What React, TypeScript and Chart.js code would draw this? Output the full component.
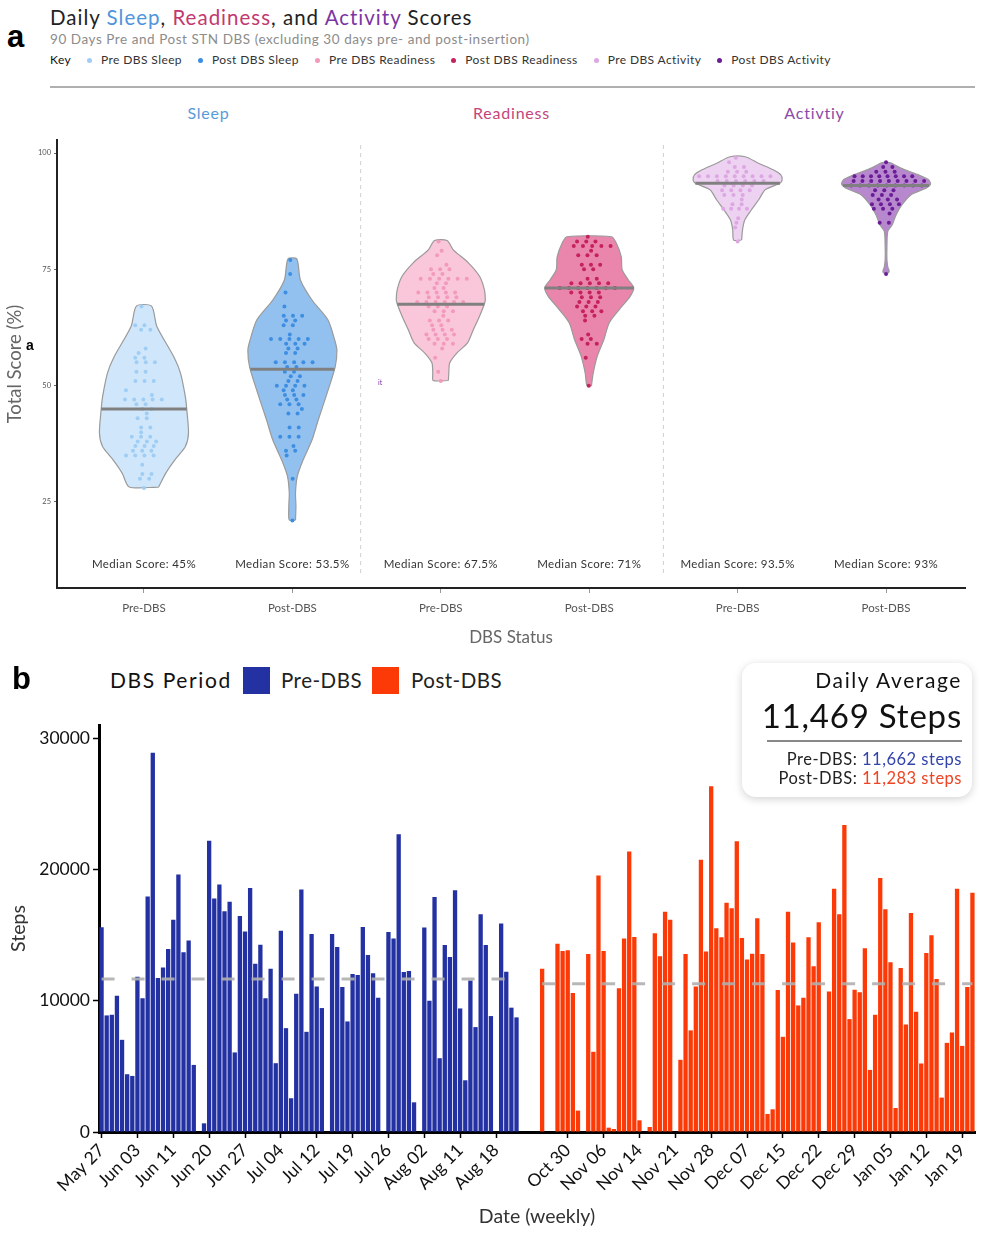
import React, { useEffect, useRef } from 'react';
import { Chart, registerables } from 'chart.js';

Chart.register(...registerables);

const FONT = "Lato, 'Noto Sans', sans-serif";

// ---------------- Panel a data ----------------
const groupLabels = ['Pre-DBS', 'Post-DBS', 'Pre-DBS', 'Post-DBS', 'Pre-DBS', 'Post-DBS'];
const facetTitles = ['Sleep', 'Readiness', 'Activtiy'];
const keyLabels = ['Pre DBS Sleep', 'Post DBS Sleep', 'Pre DBS Readiness', 'Post DBS Readiness', 'Pre DBS Activity', 'Post DBS Activity'];
const medians = [45, 53.5, 67.5, 71, 93.5, 93];
const medianTexts = ['Median Score: 45%', 'Median Score: 53.5%', 'Median Score: 67.5%', 'Median Score: 71%', 'Median Score: 93.5%', 'Median Score: 93%'];
const scoreTicks = [25, 50, 75, 100];

const sleepPre = [67, 63, 63, 62, 62, 58, 57, 56, 56, 55, 55, 55, 53, 53, 51, 51, 51, 49, 48, 47, 47, 47, 47, 47, 46, 46, 45, 45, 44, 43, 43, 41, 41, 40, 39, 39, 39, 38, 38, 38, 37, 37, 37, 36, 36, 36, 35, 35, 35, 35, 33, 31, 31, 30, 30, 28];
const sleepPost = [77, 74, 70, 67, 65, 65, 65, 64, 64, 63, 63, 61, 60, 60, 60, 60, 60, 59, 59, 59, 58, 58, 57, 57, 55, 55, 55, 55, 55, 54, 54, 53, 53, 52, 52, 51, 51, 50, 50, 50, 50, 49, 49, 48, 48, 48, 47, 47, 46, 46, 46, 45, 44, 44, 41, 41, 39, 39, 39, 37, 36, 36, 35, 30, 21];
const readinessPre = [81, 79, 78, 76, 75, 75, 75, 74, 74, 73, 73, 73, 73, 73, 73, 72, 72, 71, 71, 70, 70, 70, 70, 70, 69, 69, 69, 69, 68, 68, 68, 68, 68, 68, 67, 67, 67, 66, 66, 66, 65, 64, 64, 64, 63, 63, 62, 62, 62, 61, 61, 61, 61, 60, 60, 60, 59, 59, 59, 58, 56, 53, 51];
const readinessPost = [82, 81, 81, 81, 80, 80, 80, 80, 80, 79, 78, 78, 78, 76, 76, 76, 75, 75, 73, 73, 72, 72, 72, 72, 72, 71, 71, 71, 71, 71, 71, 71, 70, 70, 70, 70, 69, 69, 69, 68, 68, 68, 67, 67, 67, 66, 66, 66, 65, 65, 64, 61, 60, 60, 59, 59, 56, 50];
const activityPre = [99, 98, 97, 97, 96, 96, 96, 95, 95, 95, 95, 95, 95, 95, 95, 95, 94, 94, 94, 94, 94, 94, 93, 93, 93, 93, 92, 92, 92, 92, 91, 91, 91, 90, 89, 89, 88, 88, 88, 88, 86, 85, 84, 81];
const activityPost = [98, 97, 97, 96, 96, 96, 95, 95, 95, 95, 95, 95, 95, 95, 94, 94, 94, 94, 94, 94, 94, 94, 94, 93, 93, 93, 93, 93, 93, 93, 93, 93, 92, 92, 92, 91, 91, 91, 90, 90, 90, 89, 89, 89, 89, 88, 88, 88, 87, 85, 85, 74];

// violin density profiles: [score, relative width]
const sleepPreDensity = [[28.2, 0.33], [31.2, 0.49], [34.0, 0.69], [36.9, 0.93], [39.8, 1.0], [45.0, 0.96], [47.6, 0.93], [52.7, 0.82], [56.2, 0.67], [62.7, 0.29], [67.1, 0.17]];
const sleepPostDensity = [[21.1, 0.07], [24.1, 0.08], [26.9, 0.07], [30.5, 0.11], [34.0, 0.24], [38.3, 0.44], [42.6, 0.58], [48.4, 0.78], [54.0, 0.96], [57.6, 1.0], [59.8, 0.95], [64.1, 0.8], [68.4, 0.44], [72.7, 0.18], [77.2, 0.1]];
const readinessPreDensity = [[51.1, 0.17], [52.7, 0.18], [54.9, 0.2], [57.0, 0.36], [59.2, 0.6], [62.0, 0.73], [64.9, 0.87], [67.6, 0.98], [68.5, 1.0], [70.6, 0.98], [73.5, 0.87], [76.4, 0.62], [79.2, 0.28], [81.2, 0.14]];
const readinessPostDensity = [[50.0, 0.05], [52.7, 0.09], [56.3, 0.18], [59.9, 0.33], [63.5, 0.45], [66.3, 0.67], [69.2, 0.92], [71.0, 1.0], [72.7, 0.88], [74.9, 0.74], [77.7, 0.72], [80.6, 0.61], [82.0, 0.5]];
const activityPreDensity = [[81.3, 0.09], [83.5, 0.11], [85.6, 0.16], [87.8, 0.31], [89.9, 0.47], [92.1, 0.62], [93.5, 0.95], [94.2, 1.0], [95.3, 0.97], [96.4, 0.8], [97.8, 0.47], [99.2, 0.17]];
const activityPostDensity = [[74.2, 0.05], [74.6, 0.07], [75.5, 0.04], [77, 0.02], [80, 0.02], [83.2, 0.04], [84.6, 0.14], [86.8, 0.23], [88.9, 0.36], [91.1, 0.57], [92.5, 0.91], [93.3, 1.0], [94.3, 0.95], [95.4, 0.7], [96.8, 0.32], [97.9, 0.1]];

const groupScores = [sleepPre, sleepPost, readinessPre, readinessPost, activityPre, activityPost];
const groupDensity = [sleepPreDensity, sleepPostDensity, readinessPreDensity, readinessPostDensity, activityPreDensity, activityPostDensity];

const groupFill = ['#d0e7fb', '#93c1ef', '#f9c7d9', '#ea86ab', '#eed2f1', '#b888ce'];
const groupDot = ['#9fcdf4', '#3d8ee2', '#f39abc', '#c5215c', '#dca7e2', '#6b1d98'];
const facetColors = ['#5a9ad8', '#c4457a', '#8a4aa8'];

// ---------------- Panel b data ----------------
const preTickLabels = ['May 27', 'Jun 03', 'Jun 11', 'Jun 20', 'Jun 27', 'Jul 04', 'Jul 12', 'Jul 19', 'Jul 26', 'Aug 02', 'Aug 11', 'Aug 18'];
const postTickLabels = ['Oct 30', 'Nov 06', 'Nov 14', 'Nov 21', 'Nov 28', 'Dec 07', 'Dec 15', 'Dec 22', 'Dec 29', 'Jan 05', 'Jan 12', 'Jan 19'];
const preSteps = [15600, 8880, 8930, 10380, 7020, 4400, 4270, 11830, 10180, 17940, 28880, 11730, 12520, 13940, 16160, 19620, 13690, 14580, 5110, null, 660, 22190, 17790, 18850, 16820, 17530, 6060, 16460, 15270, 18580, 12820, 14270, 10180, 12440, 5240, 15320, 7910, 2570, 10530, 18470, 7630, 15090, 11090, 9440, null, 15090, 14100, 11040, 8420, 12040, 11960, 15620, 13490, 12090, 10230, null, 15240, 14730, 22670, 12190, 12260, 2260, null, 15570, 10000, 17890, 5620, 14250, 13330, 18420, 9410, 3940, 11530, 7990, 16590, 14250, 8830, null, 15880, 12210, 9470, 8730];
const postSteps = [12440, null, null, 14330, 13790, 13840, 10590, 1630, null, 13560, 6110, 19540, 13790, 330, 230, 10940, 14730, 21370, 14860, 890, null, 380, 15140, 13380, 16770, 16160, null, 5500, 13560, 7740, 11090, 20740, 13740, 26340, 15520, 14830, 17460, 17050, 22140, 14780, 13130, 13570, 16280, 13560, 1370, 1730, 10810, 7250, 16770, 14430, 9640, 10230, 14830, 12620, 15980, null, 10710, 18520, 16590, 23380, 8600, 10840, 10640, 13990, 4730, 8930, 19340, 16970, 12930, 1830, 12490, 8190, 16690, 9160, 5220, 13640, 14990, 11650, 2620, 6790, 7580, 18520, 6560, 11040, 18220];
const gapDays = 4;
const postFirstTick = 5;
const tickEvery = 7;
const stepTicks = [0, 10000, 20000, 30000];
const preMean = 11662;
const postMean = 11283;
const overallMean = 11469;

const PRE_COLOR = '#2331a3';
const POST_COLOR = '#fc3a08';

// ---------------- helpers ----------------
const VH = 0.3; // max violin half width (x units)
const DOT_SP = 0.062;

function widthAt(prof: number[][], v: number) {
  if (v < prof[0][0] || v > prof[prof.length - 1][0]) return 0;
  for (let i = 0; i < prof.length - 1; i++) {
    const [a, wa] = prof[i];
    const [b, wb] = prof[i + 1];
    if (v >= a && v <= b) return wa + ((v - a) / (b - a || 1)) * (wb - wa);
  }
  return prof[prof.length - 1][1];
}

function violinPolygon(center: number, prof: number[][]) {
  const right = prof.map(([v, w]) => ({ x: center + w * VH, y: v }));
  const left = prof.slice().reverse().map(([v, w]) => ({ x: center - w * VH, y: v }));
  return [...right, ...left, right[0]];
}

function swarm(center: number, values: number[], prof: number[][]) {
  const counts = new Map<number, number>();
  values.forEach((v) => counts.set(v, (counts.get(v) || 0) + 1));
  const seen = new Map<number, number>();
  return values.map((v) => {
    const n = counts.get(v) || 1;
    const j = seen.get(v) || 0;
    seen.set(v, j + 1);
    const half = widthAt(prof, v) * VH;
    const avail = 2 * half * 0.82;
    const sp = n > 1 ? Math.min(DOT_SP, avail / (n - 1)) : DOT_SP;
    const r = (((v * 37) % 7) / 7) - 0.5;
    const shift = n > 1 ? r * sp * 0.9 : r * half * 0.9;
    return { x: center + (j - (n - 1) / 2) * sp + shift, y: v };
  });
}

const separatorPlugin = {
  id: 'facetDecor',
  beforeDatasetsDraw(chart: any) {
    const { ctx, chartArea, scales } = chart;
    ctx.save();
    ctx.strokeStyle = '#cfcfcf';
    ctx.lineWidth = 1;
    ctx.setLineDash([4, 4]);
    [2.46, 4.5].forEach((v) => {
      const px = scales.x.getPixelForValue(v);
      ctx.beginPath();
      ctx.moveTo(px, chartArea.top + 5);
      ctx.lineTo(px, chartArea.bottom - 12);
      ctx.stroke();
    });
    ctx.restore();
  },
  afterDatasetsDraw(chart: any) {
    const { ctx, chartArea, scales } = chart;
    ctx.save();
    ctx.fillStyle = '#333';
    ctx.font = `11.5px ${FONT}`;
    try {
      (ctx as any).letterSpacing = '0.4px';
    } catch (e) {}
    ctx.textAlign = 'center';
    ctx.textBaseline = 'middle';
    medianTexts.forEach((t, i) => {
      ctx.fillText(t, scales.x.getPixelForValue(i + 1), chartArea.bottom - 24);
    });
    ctx.restore();
  },
};

export default function App() {
  const refA = useRef<HTMLCanvasElement>(null);
  const refB = useRef<HTMLCanvasElement>(null);

  useEffect(() => {
    // ---------- Panel a ----------
    const datasets: any[] = [];
    groupScores.forEach((scores, i) => {
      const c = i + 1;
      const prof = groupDensity[i];
      datasets.push({
        type: 'line',
        data: violinPolygon(c, prof),
        borderColor: '#9a9a9a',
        borderWidth: 1.2,
        backgroundColor: groupFill[i],
        fill: 'shape',
        tension: 0.25,
        pointRadius: 0,
        order: 3,
      });
      datasets.push({
        type: 'scatter',
        data: swarm(c, scores, prof),
        backgroundColor: groupDot[i],
        borderWidth: 0,
        pointRadius: 2,
        order: 2,
      });
      const mw = widthAt(prof, medians[i]) * VH;
      datasets.push({
        type: 'line',
        data: [{ x: c - mw, y: medians[i] }, { x: c + mw, y: medians[i] }],
        borderColor: '#808080',
        borderWidth: 3,
        pointRadius: 0,
        fill: false,
        order: 1,
      });
    });

    const chartA = new Chart(refA.current as HTMLCanvasElement, {
      type: 'scatter',
      data: { datasets },
      options: {
        animation: false,
        responsive: false,
        maintainAspectRatio: false,
        layout: { padding: { left: 0, right: 21, top: 10, bottom: 8 } },
        plugins: { legend: { display: false }, tooltip: { enabled: false } },
        scales: {
          x: {
            type: 'linear',
            min: 0.414,
            max: 6.532,
            afterBuildTicks: (s: any) => {
              s.ticks = groupLabels.map((_, i) => ({ value: i + 1 }));
            },
            afterFit: (s: any) => {
              s.height = 64;
            },
            ticks: {
              callback: (v: any) => groupLabels[Math.round(v) - 1] || '',
              font: { family: FONT, size: 11.5 },
              color: '#555',
              padding: 8,
              maxRotation: 0,
            },
            grid: { drawOnChartArea: false, tickLength: 5, tickColor: '#999' },
            border: { color: '#222', width: 2 },
            title: { display: true, text: 'DBS Status', font: { family: FONT, size: 17 }, color: '#666' },
          },
          y: {
            type: 'linear',
            min: 6.5,
            max: 102.8,
            afterBuildTicks: (s: any) => {
              s.ticks = scoreTicks.map((v) => ({ value: v }));
            },
            afterFit: (s: any) => {
              s.width = 57;
            },
            ticks: { font: { family: FONT, size: 7.5 }, color: '#555', padding: 3 },
            grid: { drawOnChartArea: false, tickLength: 3, tickColor: '#666' },
            border: { color: '#222', width: 2 },
            title: { display: true, text: 'Total Score (%)', font: { family: FONT, size: 18.5 }, color: '#666' },
          },
        },
      },
      plugins: [separatorPlugin],
    } as any);

    // ---------- Panel b ----------
    const nPre = preSteps.length;
    const total = nPre + gapDays + postSteps.length;
    const labels: string[] = new Array(total).fill('');
    preTickLabels.forEach((l, k) => {
      labels[k * tickEvery] = l;
    });
    postTickLabels.forEach((l, k) => {
      labels[nPre + gapDays + postFirstTick + k * tickEvery] = l;
    });
    const preFull = labels.map((_, i) => (i < nPre ? preSteps[i] : null));
    const postFull = labels.map((_, i) => (i >= nPre + gapDays ? postSteps[i - nPre - gapDays] : null));
    const preMeanLine = labels.map((_, i) => (i < nPre ? preMean : null));
    const postMeanLine = labels.map((_, i) => (i >= nPre + gapDays ? postMean : null));

    const chartB = new Chart(refB.current as HTMLCanvasElement, {
      type: 'bar',
      data: {
        labels,
        datasets: [
          { type: 'line', data: preMeanLine, borderColor: 'rgba(175,175,175,0.9)', borderWidth: 3, borderDash: [13, 17], pointRadius: 0, fill: false, spanGaps: false, order: 0 },
          { type: 'line', data: postMeanLine, borderColor: 'rgba(175,175,175,0.9)', borderWidth: 3, borderDash: [13, 17], pointRadius: 0, fill: false, spanGaps: false, order: 0 },
          { label: 'Pre-DBS', data: preFull, backgroundColor: PRE_COLOR, grouped: false, barPercentage: 0.84, categoryPercentage: 1, order: 1 },
          { label: 'Post-DBS', data: postFull, backgroundColor: POST_COLOR, grouped: false, barPercentage: 0.84, categoryPercentage: 1, order: 1 },
        ],
      },
      options: {
        animation: false,
        responsive: false,
        maintainAspectRatio: false,
        layout: { padding: { left: 3, right: 11, top: 25, bottom: 23 } },
        plugins: { legend: { display: false }, tooltip: { enabled: false } },
        scales: {
          x: {
            type: 'category',
            offset: true,
            afterBuildTicks: (s: any) => {
              s.ticks = s.ticks.filter((t: any) => labels[t.value] !== '');
            },
            afterFit: (s: any) => {
              s.height = 100;
            },
            ticks: {
              autoSkip: false,
              maxRotation: 45,
              minRotation: 45,
              font: { family: FONT, size: 17.5 },
              color: '#111',
              padding: 2,
            },
            grid: { display: true, drawOnChartArea: false, offset: false, tickLength: 6, tickColor: '#000', tickWidth: 1.5 },
            border: { color: '#000', width: 3 },
            title: { display: true, text: 'Date (weekly)', font: { family: FONT, size: 19.5 }, color: '#333' },
          },
          y: {
            type: 'linear',
            min: 0,
            max: 31000,
            afterBuildTicks: (s: any) => {
              s.ticks = stepTicks.map((v) => ({ value: v }));
            },
            afterFit: (s: any) => {
              s.width = 96;
            },
            ticks: { font: { family: FONT, size: 17.5 }, color: '#111', padding: 3, callback: (v: any) => String(v) },
            grid: { drawOnChartArea: false, tickLength: 6, tickColor: '#000', tickWidth: 1.5 },
            border: { color: '#000', width: 3 },
            title: { display: true, text: 'Steps', font: { family: FONT, size: 19.5 }, color: '#333' },
          },
        },
      },
    } as any);

    return () => {
      chartA.destroy();
      chartB.destroy();
    };
  }, []);

  const abs = (l: number, t: number, extra: any = {}) => ({ position: 'absolute' as const, left: l, top: t, ...extra });

  return (
    <div style={{ position: 'absolute', left: 0, top: 0, width: 986, height: 1255, background: '#fff', fontFamily: FONT, overflow: 'hidden' }}>
      {/* Panel a header */}
      <div style={abs(7, 20, { font: "bold 31px 'Liberation Sans', Arial, sans-serif", lineHeight: '34px', color: '#000' })}>a</div>
      <div style={abs(50, 5, { fontSize: 20.5, lineHeight: '24px', letterSpacing: '1px', color: '#222', whiteSpace: 'nowrap' })}>
        Daily <span style={{ color: '#4f95dc' }}>Sleep</span>, <span style={{ color: '#c2386f' }}>Readiness</span>, and{' '}
        <span style={{ color: '#7b35a3' }}>Activity</span> Scores
      </div>
      <div style={abs(50, 31, { fontSize: 13.5, lineHeight: '16px', letterSpacing: '0.55px', color: '#8c8c8c', whiteSpace: 'nowrap' })}>
        90 Days Pre and Post STN DBS (excluding 30 days pre- and post-insertion)
      </div>
      <div style={abs(50, 52, { display: 'flex', alignItems: 'center', fontSize: 12, lineHeight: '16px', letterSpacing: '0.4px', color: '#333', whiteSpace: 'nowrap' })}>
        <span style={{ color: '#111' }}>Key</span>
        {keyLabels.map((k, i) => (
          <React.Fragment key={k}>
            <span style={{ display: 'inline-block', width: 5, height: 5, borderRadius: 3, background: groupDot[i], marginLeft: 16, marginRight: 9 }} />
            <span>{k}</span>
          </React.Fragment>
        ))}
      </div>
      <div style={abs(50, 86, { width: 925, height: 2, background: '#b0b0b0' })} />
      {facetTitles.map((t, i) => (
        <div key={t} style={abs(57 + i * 303, 103, { width: 303, textAlign: 'center', fontSize: 16, lineHeight: '20px', letterSpacing: '0.8px', color: facetColors[i] })}>
          {t}
        </div>
      ))}
      <canvas ref={refA} width={986} height={530} style={abs(0, 130, { width: 986, height: 530 })} />
      <div style={abs(26, 337, { font: "bold 14px 'Liberation Sans', Arial, sans-serif", color: '#000' })}>a</div>
      <div style={abs(378, 378, { fontSize: 7, color: '#7b35a3' })}>it</div>

      {/* Panel b */}
      <canvas ref={refB} width={986} height={555} style={abs(0, 700, { width: 986, height: 555 })} />
      <div style={abs(12, 662, { font: "bold 31px 'Liberation Sans', Arial, sans-serif", lineHeight: '34px', color: '#000' })}>b</div>
      <div style={abs(110, 667, { fontSize: 21, lineHeight: '26px', letterSpacing: '1.6px', color: '#111', whiteSpace: 'nowrap' })}>DBS Period</div>
      <div style={abs(243, 667, { width: 27, height: 27, background: PRE_COLOR })} />
      <div style={abs(281, 667, { fontSize: 20.5, lineHeight: '26px', letterSpacing: '0.5px', color: '#222' })}>Pre-DBS</div>
      <div style={abs(372, 667, { width: 27, height: 27, background: POST_COLOR })} />
      <div style={abs(411, 667, { fontSize: 20.5, lineHeight: '26px', letterSpacing: '0.5px', color: '#222' })}>Post-DBS</div>

      <div style={abs(742, 663, { width: 230, height: 134, background: '#fff', borderRadius: 14, boxShadow: '0 2px 8px rgba(0,0,0,0.18)' })}>
        <div style={abs(0, 4, { width: 220, textAlign: 'right', fontSize: 21, lineHeight: '26px', letterSpacing: '1.6px', color: '#111', whiteSpace: 'nowrap' })}>Daily Average</div>
        <div style={abs(0, 32, { width: 220, textAlign: 'right', fontSize: 33, lineHeight: '40px', letterSpacing: '0.8px', color: '#111', whiteSpace: 'nowrap' })}>
          {overallMean.toLocaleString('en-US')} Steps
        </div>
        <div style={abs(25, 77, { width: 195, height: 1.5, background: '#888' })} />
        <div style={abs(0, 86, { width: 220, textAlign: 'right', fontSize: 16.5, lineHeight: '20px', letterSpacing: '0.5px', color: '#222', whiteSpace: 'nowrap' })}>
          Pre-DBS: <span style={{ color: '#3344aa' }}>{preMean.toLocaleString('en-US')} steps</span>
        </div>
        <div style={abs(0, 105, { width: 220, textAlign: 'right', fontSize: 16.5, lineHeight: '20px', letterSpacing: '0.5px', color: '#222', whiteSpace: 'nowrap' })}>
          Post-DBS: <span style={{ color: '#ee4422' }}>{postMean.toLocaleString('en-US')} steps</span>
        </div>
      </div>
    </div>
  );
}
